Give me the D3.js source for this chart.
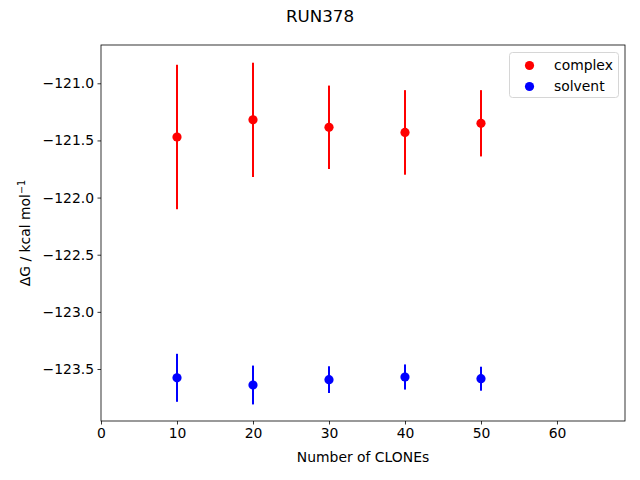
<!DOCTYPE html>
<html>
<head>
<meta charset="utf-8">
<script src="https://d3js.org/d3.v7.min.js"></script>
<style>
  body { margin: 0; background: #fff; }
  svg { display: block; font-family: "DejaVu Sans", sans-serif; }
</style>
</head>
<body>
<svg width="640" height="480"></svg>
<script>
// data
const clones = [10, 20, 30, 40, 50];
const complexDG = [-121.47, -121.32, -121.385, -121.43, -121.35];
const complexErr = [0.632, 0.50, 0.365, 0.37, 0.29];
const solventDG = [-123.577, -123.64, -123.593, -123.57, -123.585];
const solventErr = [0.21, 0.17, 0.117, 0.11, 0.105];
const xTicks = [0, 10, 20, 30, 40, 50, 60];
const yTicks = [-121.0, -121.5, -122.0, -122.5, -123.0, -123.5];

const series = [
  { name: "complex", color: "#ff0000", y: complexDG, err: complexErr },
  { name: "solvent", color: "#0000ff", y: solventDG, err: solventErr }
];

const svg = d3.select("svg");
const m = { left: 101, right: 625, top: 45, bottom: 421 };

const x = d3.scaleLinear().domain([0, 68.95]).range([m.left, m.right]);
const y = d3.scaleLinear().domain([-123.955, -120.665]).range([m.bottom, m.top]);

// axes
const xAxis = svg.append("g")
  .attr("transform", `translate(0,${m.bottom})`)
  .call(d3.axisBottom(x).tickValues(xTicks).tickFormat(d3.format("d")).tickSizeOuter(0).tickSize(3.5).tickPadding(3.5));
const yAxis = svg.append("g")
  .attr("transform", `translate(${m.left},0)`)
  .call(d3.axisLeft(y).tickValues(yTicks).tickFormat(d => d3.format(".1f")(d).replace("-", "\u2212")).tickSizeOuter(0).tickSize(3.5).tickPadding(3.5));

[xAxis, yAxis].forEach(a => {
  a.selectAll("text").attr("font-size", 13.9).attr("fill", "#000").attr("font-family", "DejaVu Sans");
  a.selectAll("line").attr("stroke", "#000").attr("stroke-width", 0.8);
  a.select(".domain").remove();
});

// frame
svg.append("rect")
  .attr("x", m.left).attr("y", m.top)
  .attr("width", m.right - m.left).attr("height", m.bottom - m.top)
  .attr("fill", "none").attr("stroke", "#000").attr("stroke-width", 0.8);

// error bars and points
series.forEach(s => {
  const g = svg.append("g");
  g.selectAll("line")
    .data(clones)
    .enter().append("line")
    .attr("x1", d => x(d)).attr("x2", d => x(d))
    .attr("y1", (d, i) => y(s.y[i] - s.err[i]))
    .attr("y2", (d, i) => y(s.y[i] + s.err[i]))
    .attr("stroke", s.color).attr("stroke-width", 2);
  g.selectAll("circle")
    .data(clones)
    .enter().append("circle")
    .attr("cx", d => x(d))
    .attr("cy", (d, i) => y(s.y[i]))
    .attr("r", 4.6)
    .attr("fill", s.color);
});

// title and labels
svg.append("text")
  .attr("x", 320).attr("y", 22)
  .attr("text-anchor", "middle").attr("font-size", 16.7)
  .text("RUN378");

svg.append("text")
  .attr("x", (m.left + m.right) / 2).attr("y", 462)
  .attr("text-anchor", "middle").attr("font-size", 13.9)
  .text("Number of CLONEs");

const yl = svg.append("text")
  .attr("transform", `translate(30,${(m.top + m.bottom) / 2}) rotate(-90)`)
  .attr("text-anchor", "middle").attr("font-size", 13.9);
yl.append("tspan").text("\u0394G / kcal mol");
yl.append("tspan").attr("font-size", 9.7).attr("dy", -5).text("\u22121");

// legend
const lg = svg.append("g");
lg.append("rect")
  .attr("x", 509.5).attr("y", 52.5).attr("width", 109).attr("height", 45)
  .attr("rx", 3).attr("fill", "#fff").attr("fill-opacity", 0.8)
  .attr("stroke", "#d6d6d6").attr("stroke-width", 1);
series.forEach((s, i) => {
  lg.append("circle")
    .attr("cx", 529.5).attr("cy", 65.5 + i * 21)
    .attr("r", 4.6).attr("fill", s.color);
  lg.append("text")
    .attr("x", 554).attr("y", 70.3 + i * 21)
    .attr("font-size", 13.9)
    .text(s.name);
});
</script>
</body>
</html>
